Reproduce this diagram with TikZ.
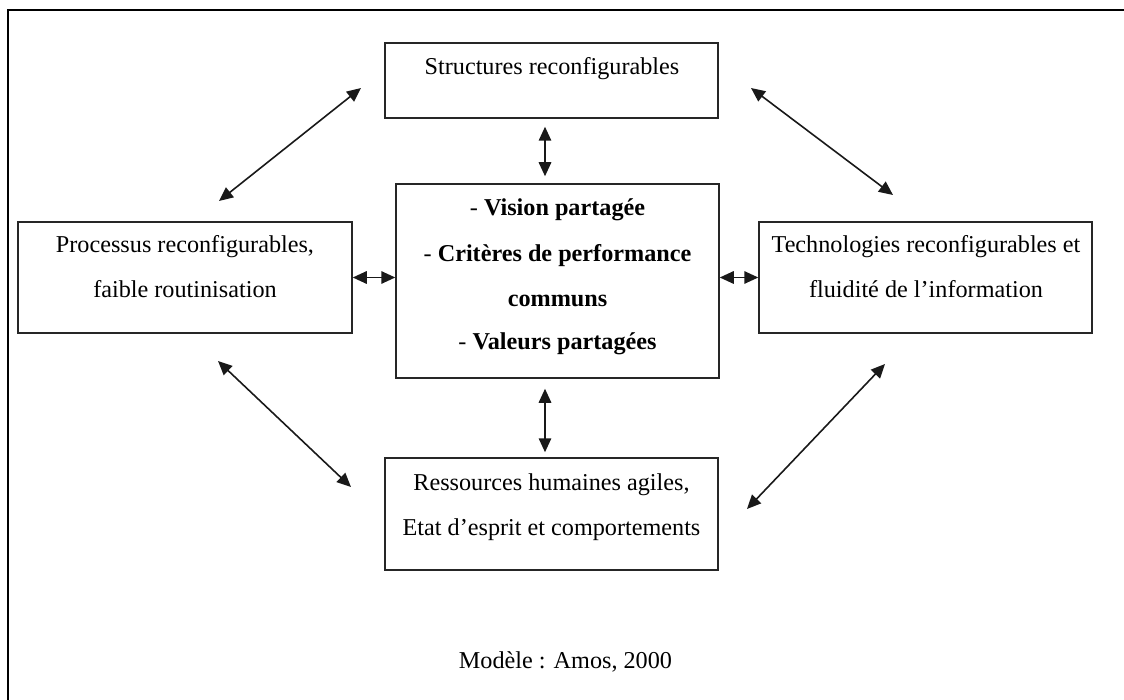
\documentclass[tikz,border=0pt]{standalone}
\usepackage{fontspec}
\setmainfont{Liberation Serif}
\usetikzlibrary{arrows.meta}
\begin{document}
\begin{tikzpicture}[x=1pt,y=-1pt,
  box/.style={draw=black!85, line width=1.5pt, inner sep=0pt, minimum width=#1},
  txt/.style={anchor=base, inner sep=0pt, font=\fontsize{24.2}{28}\selectfont},
  arr/.style={line width=1.6pt, draw=black!90, {Triangle[length=14pt,width=12.5pt]}-{Triangle[length=14pt,width=12.5pt]}},
  frame/.style={line width=2.2pt, black}
]
\useasboundingbox (0,0) rectangle (1124,700);
% outer frame (only top and left edges visible)
\coordinate (fbl) at (8,701);
\coordinate (ftl) at (8,10);
\coordinate (ftr) at (1125,10);
\draw[frame] (fbl) -- (ftl) -- (ftr);

% boxes
\node[box=333pt, minimum height=75pt] (st) at (551.5,80.5) {};
\node[box=323pt, minimum height=194pt] (cb) at (557.5,281) {};
\node[box=334pt, minimum height=111pt] (lb) at (185,277.5) {};
\node[box=333pt, minimum height=111pt] (rb) at (925.5,277.5) {};
\node[box=333pt, minimum height=112pt] (bb) at (551.5,514) {};

% texts
\node[txt] (st1) at (552,75) {Structures reconfigurables};
\node[txt] (c1) at (557.5,216) {- \textbf{Vision partagée}};
\node[txt] (c2) at (557.5,262) {- \textbf{Critères de performance}};
\node[txt] (c3) at (557.5,307) {\textbf{communs}};
\node[txt] (c4) at (557.5,350) {- \textbf{Valeurs partagées}};
\node[txt] (l1) at (185,253) {Processus reconfigurables,};
\node[txt] (l2) at (185,298) {faible routinisation};
\node[txt] (r1) at (926,253) {Technologies reconfigurables et};
\node[txt] (r2) at (926,298) {fluidité de l’information};
\node[txt] (b1) at (551.5,490) {Ressources humaines agiles,};
\node[txt] (b2) at (551.5,535) {Etat d’esprit et comportements};
\node[txt] (cap) at (565.5,668) {Modèle : Amos, 2000};

% vertical and horizontal connectors
\draw[arr] ([xshift=-6.5pt,yshift=-8pt]st.south) -- ([xshift=-12.5pt,yshift=7pt]cb.north);
\draw[arr] ([xshift=-12.5pt,yshift=-10pt]cb.south) -- ([xshift=-6.5pt,yshift=5pt]bb.north);
\draw[arr] (lb.east) -- (lb.east -| cb.west);
\draw[arr] (rb.west -| cb.east) -- (rb.west);

% diagonal connectors
\coordinate (d1a) at (219,201);
\coordinate (d1b) at (361,88);
\coordinate (d2a) at (751,88);
\coordinate (d2b) at (893,195);
\coordinate (d3a) at (218,361);
\coordinate (d3b) at (351,487);
\coordinate (d4a) at (747,509);
\coordinate (d4b) at (885,364);
\draw[arr] (d1a) -- (d1b);
\draw[arr] (d2a) -- (d2b);
\draw[arr] (d3a) -- (d3b);
\draw[arr] (d4a) -- (d4b);
\end{tikzpicture}
\end{document}
